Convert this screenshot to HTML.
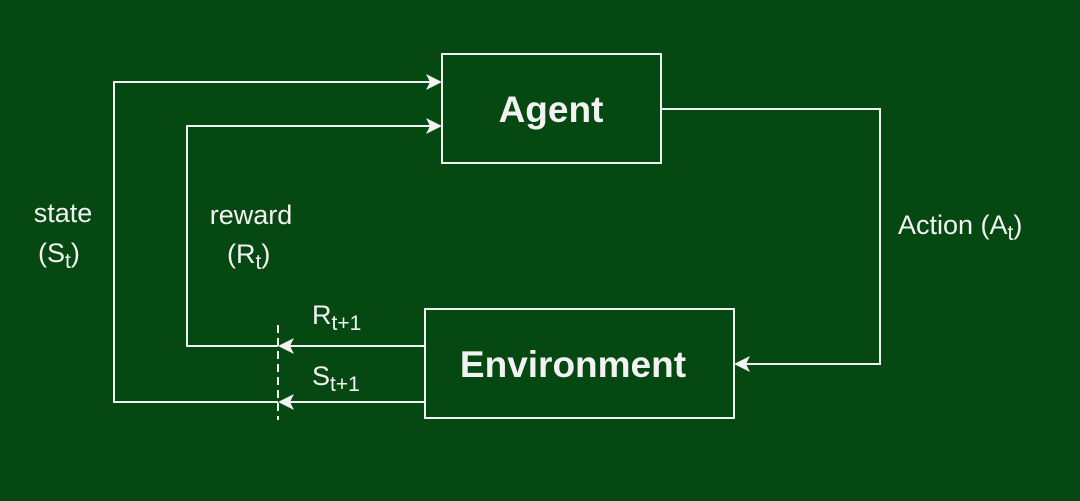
<!DOCTYPE html>
<html><head><style>
html,body{margin:0;padding:0;background:#064812;}
svg{display:block;}
text{font-family:"Liberation Sans",sans-serif;fill:#f2f2f2;}
</style></head><body>
<svg width="1080" height="501" viewBox="0 0 1080 501" xmlns="http://www.w3.org/2000/svg">
<rect width="1080" height="501" fill="#064812"/>
<g stroke="#f2f2f2" stroke-width="2" fill="none">
<rect x="442" y="54" width="219" height="109"/>
<rect x="425" y="309" width="309" height="109"/>
<polyline points="432,82 114,82 114,402 278,402"/>
<polyline points="432,126 187,126 187,346 278,346"/>
<line x1="425" y1="346" x2="286" y2="346"/>
<line x1="425" y1="402" x2="286" y2="402"/>
<polyline points="661,109 880,109 880,364 744,364"/>
<line x1="278" y1="325" x2="278" y2="420" stroke-dasharray="8,5"/>
</g>
<g fill="#f2f2f2">
<path d="M442,82 L426,74 L430,82 L426,90Z"/>
<path d="M442,126 L426,118 L430,126 L426,134Z"/>
<path d="M278,346 L294,338 L290,346 L294,354Z"/>
<path d="M278,402 L294,394 L290,402 L294,410Z"/>
<path d="M734,364 L750,356 L746,364 L750,372Z"/>
</g>
<text x="551" y="122" font-size="37" font-weight="bold" text-anchor="middle">Agent</text>
<text x="573" y="377" font-size="37" font-weight="bold" text-anchor="middle">Environment</text>
<text x="63" y="222" font-size="27" text-anchor="middle">state</text>
<text x="38" y="262" font-size="27">(S<tspan font-size="21" dy="6">t</tspan><tspan dy="-6">)</tspan></text>
<text x="251" y="224" font-size="27" text-anchor="middle">reward</text>
<text x="227" y="263" font-size="27">(R<tspan font-size="21" dy="6">t</tspan><tspan dy="-6">)</tspan></text>
<text x="898" y="234" font-size="27">Action (A<tspan font-size="21" dy="6">t</tspan><tspan dy="-6">)</tspan></text>
<text x="312" y="324" font-size="27">R<tspan font-size="21" dy="6">t+1</tspan></text>
<text x="312" y="385" font-size="27">S<tspan font-size="21" dy="6">t+1</tspan></text>
</svg>
</body></html>
